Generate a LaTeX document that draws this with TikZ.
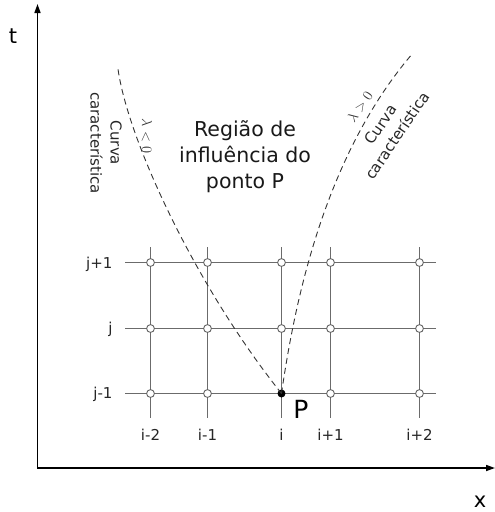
\documentclass[tikz,border=0pt]{standalone}
\usepackage{fontspec}
\setmainfont{DejaVu Sans}
\usetikzlibrary{arrows.meta}
\begin{document}
\begin{tikzpicture}[x=1pt,y=-1pt,
  axis/.style={line width=1.6pt,{Triangle[length=9pt,width=6pt]}-{Triangle[length=9pt,width=6pt]}},
  gridline/.style={line width=1.3pt,draw=black!58},
  gnode/.style={circle,draw=black!62,fill=white,line width=0.9pt,inner sep=0pt,minimum size=7.8pt},
  pnode/.style={circle,fill=black,inner sep=0pt,minimum size=8pt},
  charc/.style={dash pattern=on 6pt off 4pt,line width=0.9pt,draw=black!80},
  lab/.style={font=\fontsize{15}{18}\selectfont,text=black!85},
  clab/.style={font=\fontsize{15}{20}\selectfont,text=black!85,align=center,inner sep=0pt},
  mlab/.style={font=\fontsize{14}{16}\selectfont,text=black!80,inner sep=0pt},
  biglab/.style={font=\fontsize{20.5}{26}\selectfont,text=black!90,align=center},
  axlab/.style={font=\fontsize{21}{24}\selectfont,anchor=base}
]
\useasboundingbox (0,0) rectangle (495,512);
% axes
\coordinate (tend) at (37.5,4);
\coordinate (O) at (37.5,468);
\coordinate (xend) at (495,468);
\draw[axis] (tend) -- (O) -- (xend);
\node[axlab] (tlab) at (13,43) {t};
\node[axlab] (xlab) at (480,507) {x};
% grid lines
\foreach \y in {262.5,328.5,393.5}{
  \draw[gridline] (125,\y) -- (436,\y);
}
\foreach \x in {150.5,207.5,281.5,330.5,419.5}{
  \draw[gridline] (\x,247) -- (\x,418);
}
% grid nodes
\foreach \x/\n in {150.5/a,207.5/b,281.5/c,330.5/d,419.5/e}{
  \foreach \y/\m in {262.5/1,328.5/2}{
    \node[gnode] (\n\m) at (\x,\y) {};
  }
}
\foreach \x/\n in {150.5/a,207.5/b,330.5/d,419.5/e}{
  \node[gnode] (\n3) at (\x,393.5) {};
}
% row labels
\node[lab,anchor=base east] (r1) at (116,268.3) {j+1};
\node[lab,anchor=base east] (r2) at (116,333.8) {j};
\node[lab,anchor=base east] (r3) at (116,398.8) {j-1};
% column labels
\node[lab,anchor=base] (c1) at (150.5,440) {i-2};
\node[lab,anchor=base] (c2) at (207.5,440) {i-1};
\node[lab,anchor=base] (c3) at (281.5,440) {i};
\node[lab,anchor=base] (c4) at (330.5,440) {i+1};
\node[lab,anchor=base] (c5) at (419.5,440) {i+2};
% point P
\node[pnode] (P) at (281.5,393.5) {};
\node[font=\fontsize{25}{30}\selectfont] (Plab) at (301,409) {P};
% characteristic curves
\coordinate (ltop) at (118,69);
\coordinate (rtop) at (413,53);
\draw[charc] (P.center) .. controls (195,285) and (128,140) .. (ltop);
\draw[charc] (P.center) .. controls (295,300) and (325,155) .. (rtop);
% labels
\node[biglab] (reg) at (245,157) {Região de\\influência do\\ponto P};
\node[clab,rotate=-90] (lc) at (106,143) {Curva\\característica};
\node[mlab,rotate=-90] (ll) at (147,136) {$\lambda<0$};
\node[clab,rotate=56] (rc) at (389,130) {Curva\\característica};
\node[mlab,rotate=56] (rl) at (360,107) {$\lambda>0$};
\end{tikzpicture}
\end{document}
